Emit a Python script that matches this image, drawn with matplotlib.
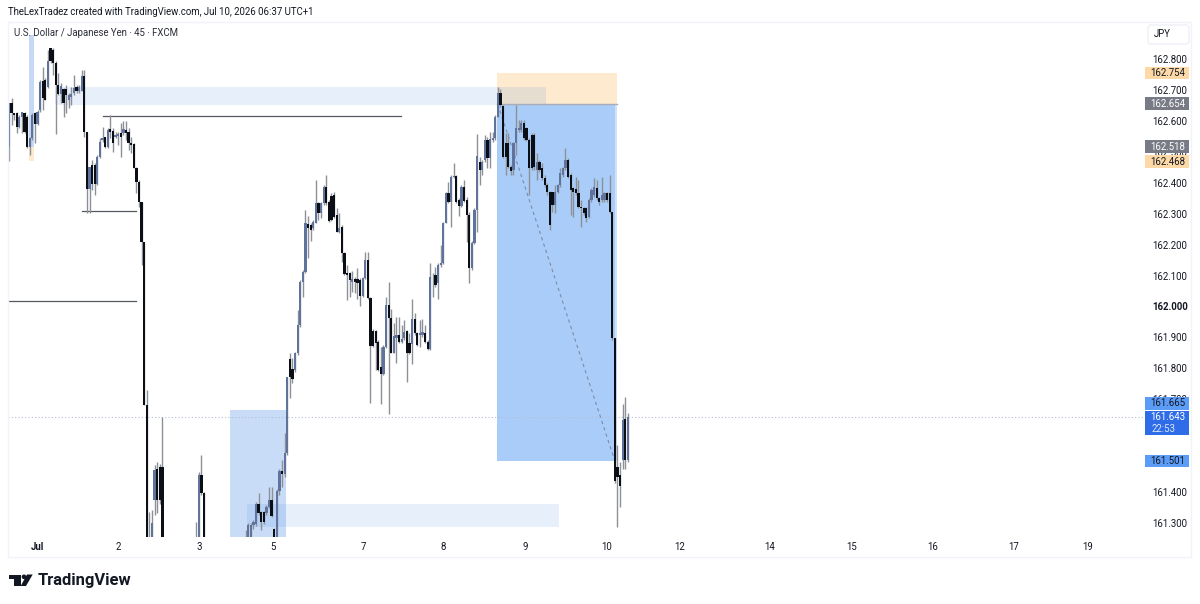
import numpy as np
import matplotlib
matplotlib.use("Agg")
import matplotlib.pyplot as plt
from matplotlib.patches import Circle, FancyBboxPatch, Polygon, Rectangle

plt.rcParams["font.family"] = ["Roboto", "DejaVu Sans"]

OFF = float("nan")  # bars that sit below the visible price range

opens = [
    162.517, 162.659, 162.624, 162.627, 162.581, 162.612, 162.624, 162.614, 162.517, 162.544,
    162.624, 162.590, 162.635, 162.729, 162.732, 162.711, 162.837, 162.829, 162.786, 162.716,
    162.687, 162.702, 162.702, 162.668, 162.678, 162.689, 162.709, 162.698, 162.698, 162.745,
    162.565, 162.379, 162.457, 162.457, 162.396, 162.484, 162.538, 162.547, 162.517, 162.573,
    162.568, 162.547, 162.551, 162.560, 162.560, 162.571, 162.565, 162.527, 162.525, 162.447,
    162.403, 162.337, 162.209, 161.681, 161.100, 161.150, 161.374, 161.476, 161.480, 161.482,
] + [OFF] * 12 + [161.150, 161.150, 161.455, 161.396] + [OFF] * 15 + [
    161.150, 161.200, 161.200, 161.293, 161.298, 161.361, 161.336, 161.336, 161.331,
    161.352, 161.374, 161.279, 161.200, 161.404, 161.469, 161.458, 161.525,
    161.830, 161.798, 161.794, 161.848, 161.940, 162.080, 162.112, 162.267, 162.263,
    162.253, 162.271, 162.336, 162.301, 162.333, 162.387, 162.337, 162.357, 162.360, 162.296,
    162.242, 162.258, 162.174, 162.107, 162.107, 162.080, 162.088, 162.088, 162.086, 162.035,
    162.091, 162.150, 162.026, 161.922, 161.922, 161.886, 161.805, 161.782, 161.870, 162.005,
    161.962, 161.851, 161.897, 161.908, 161.886, 161.897, 161.922, 161.881, 161.879, 161.958,
    161.913, 161.908, 161.908, 161.915, 161.886, 161.861, 162.096, 162.102, 162.075, 162.134,
    162.139, 162.271, 162.366, 162.339, 162.418, 162.422, 162.344, 162.325, 162.385, 162.344,
    162.296, 162.123, 162.206, 162.312, 162.468, 162.441, 162.474, 162.538, 162.479, 162.538,
    162.544, 162.614, 162.689, 162.648, 162.530, 162.530, 162.452, 162.441, 162.527, 162.571,
    162.571, 162.592, 162.576, 162.538, 162.554, 162.554, 162.441, 162.468, 162.447, 162.414,
    162.393, 162.371, 162.371, 162.328, 162.371, 162.393, 162.425, 162.447, 162.474, 162.425,
    162.382, 162.379, 162.366, 162.323, 162.317, 162.317, 162.290, 162.344, 162.360, 162.382,
    162.350, 162.344, 162.344, 162.366, 162.366, 162.306, 161.898, 161.482, 161.455, 161.503,
    161.635, 161.503,
]
highs = [
    162.659, 162.673, 162.627, 162.630, 162.619, 162.630, 162.630, 162.619, 162.549, 162.624,
    162.630, 162.635, 162.732, 162.775, 162.738, 162.829, 162.837, 162.835, 162.792, 162.754,
    162.722, 162.705, 162.716, 162.689, 162.711, 162.748, 162.716, 162.716, 162.765, 162.765,
    162.565, 162.452, 162.474, 162.463, 162.490, 162.544, 162.581, 162.549, 162.576, 162.619,
    162.576, 162.565, 162.565, 162.592, 162.598, 162.598, 162.576, 162.549, 162.527, 162.452,
    162.409, 162.339, 162.209, 161.730, 161.336, 161.342, 161.487, 161.498, 161.490, 161.643,
] + [OFF] * 12 + [161.304, 161.466, 161.520, 161.400] + [OFF] * 15 + [
    161.277, 161.300, 161.300, 161.309, 161.369, 161.396, 161.340, 161.340, 161.358,
    161.417, 161.417, 161.285, 161.410, 161.473, 161.503, 161.590, 161.771,
    161.848, 161.832, 161.854, 161.988, 162.086, 162.118, 162.312, 162.292, 162.269,
    162.280, 162.409, 162.339, 162.339, 162.393, 162.425, 162.344, 162.366, 162.371, 162.317,
    162.301, 162.263, 162.177, 162.134, 162.112, 162.116, 162.096, 162.123, 162.091, 162.096,
    162.177, 162.177, 162.029, 161.926, 161.924, 161.891, 161.870, 161.875, 162.032, 162.080,
    161.991, 161.947, 161.965, 161.967, 161.940, 161.956, 161.924, 161.913, 162.023, 161.978,
    161.918, 161.956, 161.958, 161.940, 161.891, 162.139, 162.107, 162.129, 162.139, 162.199,
    162.274, 162.371, 162.403, 162.425, 162.463, 162.425, 162.350, 162.393, 162.409, 162.355,
    162.306, 162.210, 162.317, 162.558, 162.484, 162.474, 162.554, 162.547, 162.565, 162.565,
    162.619, 162.709, 162.702, 162.651, 162.560, 162.560, 162.457, 162.533, 162.651, 162.603,
    162.603, 162.603, 162.581, 162.544, 162.560, 162.560, 162.495, 162.474, 162.463, 162.425,
    162.398, 162.374, 162.371, 162.393, 162.396, 162.447, 162.452, 162.511, 162.479, 162.430,
    162.387, 162.420, 162.409, 162.344, 162.323, 162.323, 162.350, 162.382, 162.414, 162.409,
    162.355, 162.420, 162.371, 162.371, 162.425, 162.306, 161.898, 161.552, 161.498, 161.684,
    161.708, 161.654,
]
lows = [
    162.471, 162.587, 162.603, 162.560, 162.576, 162.560, 162.560, 162.511, 162.490, 162.538,
    162.527, 162.587, 162.630, 162.635, 162.668, 162.705, 162.786, 162.748, 162.558, 162.684,
    162.657, 162.614, 162.624, 162.641, 162.651, 162.684, 162.689, 162.691, 162.695, 162.549,
    162.301, 162.301, 162.377, 162.360, 162.393, 162.479, 162.533, 162.511, 162.511, 162.544,
    162.500, 162.544, 162.522, 162.484, 162.554, 162.538, 162.506, 162.495, 162.447, 162.366,
    162.323, 162.134, 161.681, 161.100, 161.000, 161.050, 161.325, 161.331, 161.360, 161.100,
] + [OFF] * 12 + [161.100, 161.100, 161.390, 161.100] + [OFF] * 15 + [
    161.100, 161.150, 161.150, 161.282, 161.290, 161.325, 161.277, 161.298, 161.325,
    161.347, 161.320, 161.150, 161.150, 161.390, 161.417, 161.450, 161.520,
    161.703, 161.751, 161.789, 161.843, 161.935, 162.032, 162.107, 162.156, 162.212,
    162.247, 162.269, 162.280, 162.285, 162.328, 162.328, 162.274, 162.276, 162.285, 162.241,
    162.239, 162.145, 162.102, 162.021, 162.032, 162.048, 162.042, 162.023, 162.001, 162.032,
    162.088, 162.023, 161.687, 161.868, 161.794, 161.792, 161.683, 161.778, 161.865, 161.652,
    161.848, 161.848, 161.816, 161.883, 161.881, 161.891, 161.757, 161.846, 161.814, 161.908,
    161.872, 161.870, 161.902, 161.881, 161.859, 161.859, 162.032, 162.064, 162.023, 162.129,
    162.137, 162.269, 162.333, 162.258, 162.414, 162.336, 162.292, 162.320, 162.339, 162.209,
    162.077, 162.118, 162.202, 162.242, 162.393, 162.425, 162.468, 162.447, 162.447, 162.533,
    162.538, 162.612, 162.646, 162.479, 162.425, 162.447, 162.425, 162.425, 162.490, 162.565,
    162.565, 162.538, 162.535, 162.360, 162.441, 162.441, 162.409, 162.436, 162.409, 162.387,
    162.360, 162.247, 162.306, 162.303, 162.366, 162.387, 162.420, 162.441, 162.414, 162.296,
    162.290, 162.360, 162.317, 162.258, 162.296, 162.274, 162.285, 162.339, 162.355, 162.344,
    162.328, 162.339, 162.339, 162.339, 162.301, 161.890, 161.430, 161.288, 161.352, 161.476,
    161.476, 161.498,
]
closes = [
    162.659, 162.624, 162.619, 162.581, 162.614, 162.629, 162.565, 162.515, 162.544, 162.619,
    162.590, 162.630, 162.727, 162.673, 162.668, 162.792, 162.792, 162.786, 162.716, 162.687,
    162.713, 162.657, 162.684, 162.684, 162.687, 162.705, 162.695, 162.709, 162.745, 162.565,
    162.379, 162.452, 162.396, 162.396, 162.484, 162.533, 162.544, 162.517, 162.571, 162.565,
    162.530, 162.554, 162.558, 162.549, 162.573, 162.560, 162.527, 162.522, 162.447, 162.403,
    162.339, 162.209, 161.681, 161.150, 161.200, 161.300, 161.471, 161.374, 161.374, 161.100,
] + [OFF] * 12 + [161.200, 161.455, 161.396, 161.150] + [OFF] * 15 + [
    161.240, 161.293, 161.293, 161.304, 161.361, 161.331, 161.304, 161.302, 161.352,
    161.374, 161.322, 161.200, 161.404, 161.469, 161.458, 161.525, 161.771,
    161.771, 161.767, 161.848, 161.940, 162.080, 162.112, 162.269, 162.253, 162.247,
    162.274, 162.336, 162.303, 162.333, 162.387, 162.333, 162.277, 162.280, 162.290, 162.242,
    162.255, 162.174, 162.105, 162.102, 162.086, 162.088, 162.080, 162.077, 162.035, 162.091,
    162.150, 162.026, 161.872, 161.872, 161.883, 161.794, 161.782, 161.870, 162.005, 161.962,
    161.851, 161.904, 161.908, 161.886, 161.894, 161.918, 161.848, 161.848, 161.958, 161.913,
    161.875, 161.915, 161.918, 161.886, 161.861, 162.096, 162.096, 162.069, 162.134, 162.139,
    162.271, 162.366, 162.339, 162.418, 162.422, 162.339, 162.325, 162.387, 162.342, 162.296,
    162.123, 162.206, 162.312, 162.487, 162.441, 162.468, 162.538, 162.479, 162.540, 162.544,
    162.614, 162.689, 162.651, 162.484, 162.484, 162.452, 162.439, 162.527, 162.576, 162.576,
    162.592, 162.544, 162.538, 162.447, 162.447, 162.452, 162.468, 162.441, 162.414, 162.393,
    162.371, 162.263, 162.328, 162.371, 162.393, 162.430, 162.447, 162.474, 162.420, 162.377,
    162.371, 162.366, 162.323, 162.317, 162.301, 162.285, 162.344, 162.377, 162.387, 162.350,
    162.339, 162.360, 162.366, 162.344, 162.306, 161.898, 161.436, 161.449, 161.419, 161.632,
    161.503, 161.643,
]

# 161.6 and 161.5 sit fully behind the price tags, so they are left out
price_ticks = [162.8, 162.7, 162.6, 162.5, 162.4, 162.3, 162.2, 162.1, 162.0, 161.9, 161.8, 161.7, 161.4, 161.3]
time_pos = [10.8, 41.9, 73.1, 101.5, 136.2, 166.9, 198.5, 230.0, 258.0, 292.7, 323.9, 355.4, 386.5, 415.0]
time_labels = ["Jul", "2", "3", "5", "7", "8", "9", "10", "12", "14", "15", "16", "17", "19"]

tag_prices = [162.754, 162.654, 162.518, 162.468, 161.665, 161.501]
tag_centers = [73.0, 103.7, 146.7, 161.7, 403.3, 461.0]
tag_fills = ["#fdd9a8", "#787b86", "#787b86", "#fdd9a8", "#5b9cf6", "#5b9cf6"]
tag_text = ["#131722", "#ffffff", "#ffffff", "#131722", "#131722", "#131722"]

last_price = 161.643
countdown = "22:53"

UP = "#5f739c"
DOWN = "#0b0e14"
WICK = "#8d9097"
FONT = 6.9

W, H = 1200, 604
fig = plt.figure(figsize=(W / 100, H / 100), dpi=100, facecolor="white")
ax = fig.add_axes([8 / W, 1 - 537 / H, (1145 - 8) / W, (537 - 22) / H])
ax.set_xlim(-0.38, 436.9)
ax.set_ylim(161.2546, 162.9196)
for spine in ax.spines.values():
    spine.set_visible(False)
ax.set_xticks([])
ax.yaxis.tick_right()
ax.set_yticks(price_ticks)
ax.set_yticklabels([f"{p:.3f}" for p in price_ticks], fontsize=FONT, color="#131722")
ax.tick_params(axis="y", length=0, pad=5)
ax.get_yticklabels()[price_ticks.index(162.0)].set_fontweight("bold")


def zone(x0, x1, y0, y1, color, z=1, edge="none"):
    ax.add_patch(Rectangle((x0, y0), x1 - x0, y1 - y0, facecolor=color, edgecolor=edge, lw=0.6, zorder=z))


# position tool and the other boxes
zone(187.7, 233.8, 162.654, 162.754, "#fdeacf")
zone(187.7, 233.1, 161.501, 162.654, "#a9ccf9")
zone(233.1, 233.8, 161.501, 162.654, "#cfe2fb")
zone(7.7, 9.6, 162.515, 162.878, "#c5d9f6")
zone(7.7, 9.6, 162.470, 162.515, "#fdeacf")
zone(17.7, 206.0, 162.654, 162.709, (0.25, 0.50, 0.88, 0.12), z=2, edge=(0.25, 0.50, 0.88, 0.08))
zone(85.0, 106.5, 161.2, 161.665, "#c8dcf8")
zone(91.5, 211.0, 161.290, 161.361, (0.25, 0.50, 0.88, 0.12), z=2, edge=(0.25, 0.50, 0.88, 0.08))
ax.plot([187.7, 233.8], [162.654, 162.654], color="#a8acb6", lw=1, zorder=2)
ax.plot([188, 233], [162.654, 161.501], color="#7f8ca3", lw=0.8, ls=(0, (3, 3)), zorder=2)

# swing levels
ax.plot([36.2, 150.8], [162.617, 162.617], color="#55585f", lw=0.9, zorder=3)
ax.plot([28.1, 48.8], [162.307, 162.307], color="#55585f", lw=0.9, zorder=3)
ax.plot([-0.38, 48.8], [162.016, 162.016], color="#55585f", lw=0.9, zorder=3)

ax.axhline(last_price, color="#b3bdd6", lw=0.8, ls=(0, (1, 2)), zorder=2)

# candles
bars = np.arange(len(opens))
o, h, l, c = map(np.array, (opens, highs, lows, closes))
is_up = c >= o
ax.vlines(bars, l, h, color=WICK, lw=1.0, zorder=4)
ax.bar(bars[is_up], (c - o)[is_up], bottom=o[is_up], width=0.85, color=UP, linewidth=0, zorder=5)
ax.bar(bars[~is_up], (o - c)[~is_up], bottom=c[~is_up], width=0.85, color=DOWN, linewidth=0, zorder=5)

# everything outside the plot lives in pixel coordinates
ov = fig.add_axes([0, 0, 1, 1], facecolor="none")
ov.set_xlim(0, W)
ov.set_ylim(H, 0)
ov.axis("off")

ov.plot([8, 8, 1191, 1191, 8], [22, 557, 557, 22, 22], color="#f0f3fa", lw=1)
ov.text(8, 12, "TheLexTradez created with TradingView.com, Jul 10, 2026 06:37 UTC+1", fontsize=FONT, color="#131722", va="center")
ov.text(14, 33, "U.S. Dollar / Japanese Yen · 45 · FXCM", fontsize=FONT, color="#2a2e39", va="center")
ov.add_patch(FancyBboxPatch((1148, 25), 41, 19, boxstyle="round,pad=0,rounding_size=3", fc="white", ec="#eef0f5", lw=1))
ov.text(1162, 34, "JPY", fontsize=FONT, color="#131722", va="center", ha="center")

for pos, lab in zip(time_pos, time_labels):
    px = 8 + (pos + 0.38) / (436.9 + 0.38) * 1137
    ov.text(px, 547, lab, fontsize=FONT, color="#131722", ha="center", va="center", fontweight="bold" if lab == "Jul" else "normal")

for price, cy, fill, tc in zip(tag_prices, tag_centers, tag_fills, tag_text):
    ov.add_patch(Rectangle((1145, cy - 6.3), 44, 12.6, facecolor=fill, edgecolor="none", zorder=6))
    ov.text(1167.5, cy, f"{price:.3f}", fontsize=FONT, color=tc, ha="center", va="center", zorder=7)
ov.add_patch(Rectangle((1145, 410.7), 44, 24.3, facecolor="#2f6de8", edgecolor="none", zorder=6))
ov.text(1167.5, 417.5, f"{last_price:.3f}", fontsize=FONT, color="white", ha="center", va="center", zorder=7)
ov.text(1152, 428.7, countdown, fontsize=FONT, color="#dbe6fb", ha="left", va="center", zorder=7)

# logo
ov.add_patch(Polygon([(9.3, 574.5), (20.7, 574.5), (20.7, 586), (14, 586), (14, 579.3), (9.3, 579.3)], fc="#131722", ec="none"))
ov.add_patch(Circle((24, 576.8), 2.3, fc="#131722", ec="none"))
ov.add_patch(Polygon([(27, 574.5), (32.7, 574.5), (26, 586), (20.7, 586)], fc="#131722", ec="none"))
ov.text(38, 581, "TradingView", fontsize=11.9, color="#131722", va="center", fontweight="bold")

fig.savefig("out.png", dpi=100)
